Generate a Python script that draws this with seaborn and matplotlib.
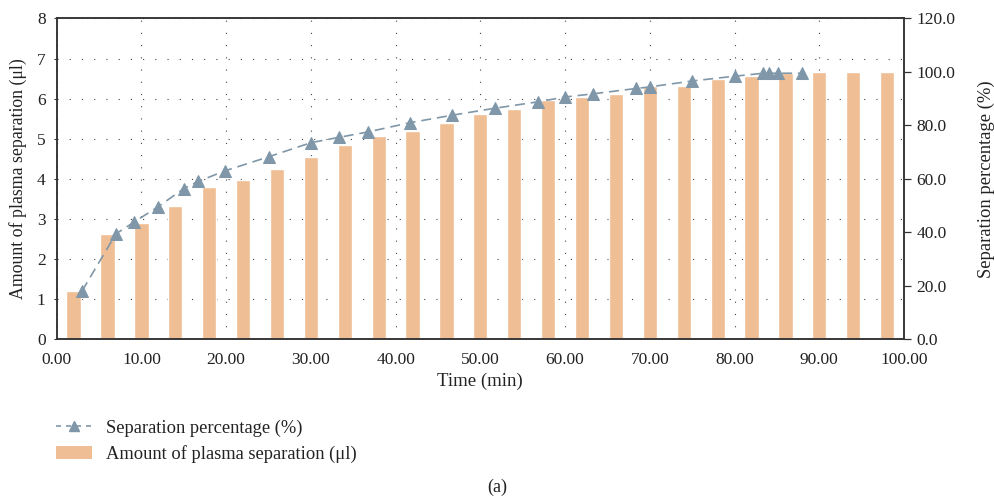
import matplotlib
matplotlib.use('Agg')
import matplotlib.pyplot as plt
import numpy as np
import pandas as pd
import seaborn as sns
from matplotlib.lines import Line2D
from matplotlib.patches import Patch
from matplotlib.ticker import FormatStrFormatter

# bars: amount of plasma separation (ul), one bar per time slot
bar_time = [2, 6, 10, 14, 18, 22, 26, 30, 34, 38, 42, 46, 50,
            54, 58, 62, 66, 70, 74, 78, 82, 86, 90, 94, 98]
amount = [1.20, 2.62, 2.89, 3.32, 3.79, 3.97, 4.24, 4.54, 4.84, 5.06, 5.19, 5.39, 5.61,
          5.74, 5.96, 6.04, 6.11, 6.32, 6.32, 6.49, 6.57, 6.64, 6.66, 6.66, 6.66]

# line: separation percentage (%) against time (min)
line_time = [3.0, 7.0, 9.1, 12.0, 15.0, 16.7, 19.9, 25.0, 30.0, 33.3, 36.7, 41.7, 46.7,
             51.7, 56.8, 60.0, 63.3, 68.4, 70.0, 75.0, 80.0, 83.4, 84.1, 85.1, 88.0]
percentage = [18.0, 39.4, 43.7, 49.6, 56.3, 59.0, 63.0, 68.2, 73.5, 75.5, 77.5, 81.0, 83.8,
              86.4, 88.8, 90.6, 91.8, 93.8, 94.4, 96.6, 98.4, 99.5, 99.5, 99.5, 99.5]

bar_color = '#EFBE94'
line_color = '#7F97A8'
spine_color = '#333333'
text_color = '#222222'

sns.set_style('white')
plt.rcParams['font.family'] = ['Liberation Serif', 'DejaVu Serif']
plt.rcParams['font.size'] = 12
plt.rcParams['text.color'] = text_color
plt.rcParams['axes.labelcolor'] = text_color
plt.rcParams['xtick.color'] = text_color
plt.rcParams['ytick.color'] = text_color

bars = pd.DataFrame({'time': bar_time, 'amount': amount})
line = pd.DataFrame({'time': line_time, 'percentage': percentage})

fig = plt.figure(figsize=(9.94, 5.0), dpi=100)
ax = fig.add_axes([0.057, 0.322, 0.8525, 0.641])

sns.barplot(data=bars, x='time', y='amount', native_scale=True, width=0.42,
            color=bar_color, saturation=1, ax=ax, zorder=2)
ax.set_axisbelow(True)
ax.set_xlim(0, 100)
ax.set_ylim(0, 8)
ax.set_xticks(np.arange(0, 101, 10))
ax.set_yticks(np.arange(0, 9, 1))
ax.xaxis.set_major_formatter(FormatStrFormatter('%.2f'))
ax.grid(True, color='#444444', linewidth=0.8, linestyle=(0, (1, 10)))
ax.set_xlabel('Time (min)', fontsize=13.5, labelpad=4)
ax.set_ylabel('Amount of plasma separation (μl)', fontsize=12.8, labelpad=7)
ax.tick_params(axis='x', length=0, pad=9, labelsize=12.5)
ax.tick_params(axis='y', length=2, width=0.8, pad=6, labelsize=12.5, color=spine_color)

ax2 = ax.twinx()
sns.lineplot(data=line, x='time', y='percentage', ax=ax2, color=line_color,
             marker='^', markersize=8, markeredgecolor=line_color,
             linewidth=1.2, dashes=False, linestyle=(0, (6, 3.5)), zorder=3)
ax2.set_ylim(0, 120)
ax2.set_yticks(np.arange(0, 121, 20))
ax2.yaxis.set_major_formatter(FormatStrFormatter('%.1f'))
ax2.set_ylabel('Separation percentage (%)', fontsize=13.4, labelpad=16)
ax2.tick_params(axis='y', length=5, width=0.9, pad=4, labelsize=12.5, color=spine_color)
ax2.grid(False)

for a in (ax, ax2):
    for side in a.spines.values():
        side.set_visible(True)
        side.set_color(spine_color)
        side.set_linewidth(1.1)

handles = [
    Line2D([0], [0], color=line_color, linewidth=1.2, linestyle=(0, (3, 3)),
           marker='^', markersize=7, markeredgecolor=line_color),
    Patch(facecolor=bar_color, edgecolor='none'),
]
labels = ['Separation percentage (%)', 'Amount of plasma separation (μl)']
fig.legend(handles, labels, loc='upper left', bbox_to_anchor=(0.049, 0.176),
           frameon=False, fontsize=13.3, handlelength=1.95, handletextpad=0.75,
           labelspacing=0.45, borderaxespad=0)

fig.text(0.5, 0.026, '(a)', ha='center', va='center', fontsize=13)

fig.savefig('out.png', dpi=100)
